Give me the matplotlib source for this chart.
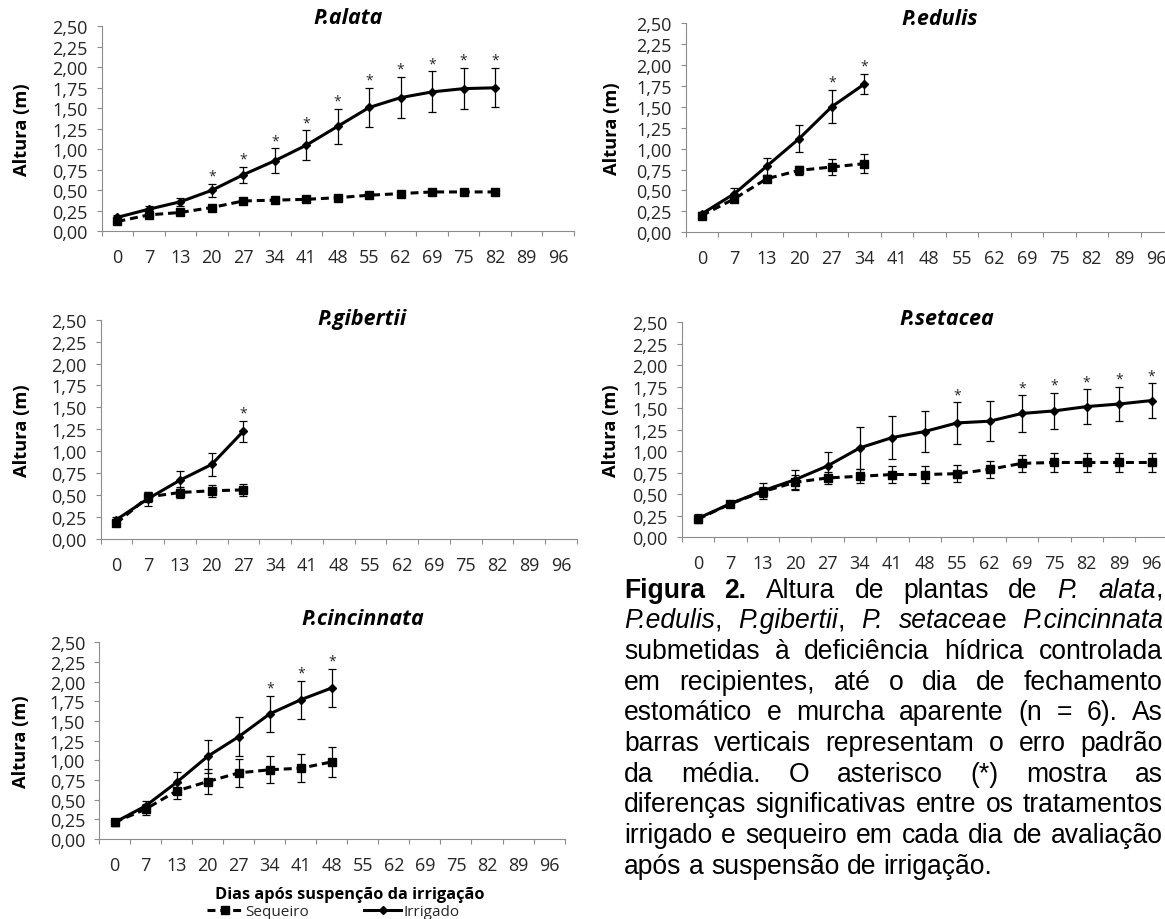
import re
import matplotlib
matplotlib.use("Agg")
import matplotlib.pyplot as plt
from matplotlib.lines import Line2D

plt.rcParams["font.family"] = "Open Sans"

# ---------------- data ----------------
days = ["0", "7", "13", "20", "27", "34", "41", "48", "55", "62", "69", "75", "82", "89", "96"]
ytick_vals = [0.0, 0.25, 0.5, 0.75, 1.0, 1.25, 1.5, 1.75, 2.0, 2.25, 2.5]
ytick_labels = ["0,00", "0,25", "0,50", "0,75", "1,00", "1,25", "1,50", "1,75", "2,00", "2,25", "2,50"]
series_names = ["Sequeiro", "Irrigado"]

alata_irr = [0.17, 0.27, 0.36, 0.50, 0.69, 0.86, 1.05, 1.28, 1.51, 1.63, 1.70, 1.74, 1.75]
alata_irr_err = [0.03, 0.04, 0.05, 0.08, 0.10, 0.15, 0.18, 0.21, 0.24, 0.25, 0.25, 0.25, 0.24]
alata_seq = [0.12, 0.20, 0.23, 0.29, 0.37, 0.38, 0.39, 0.41, 0.44, 0.46, 0.48, 0.48, 0.48]
alata_seq_err = [0.02, 0.02, 0.02, 0.02, 0.02, 0.02, 0.02, 0.02, 0.03, 0.03, 0.03, 0.03, 0.03]
alata_sig = ["20", "27", "34", "41", "48", "55", "62", "69", "75", "82"]

edulis_irr = [0.22, 0.46, 0.79, 1.12, 1.50, 1.77]
edulis_irr_err = [0.02, 0.07, 0.10, 0.16, 0.20, 0.12]
edulis_seq = [0.20, 0.40, 0.64, 0.74, 0.78, 0.82]
edulis_seq_err = [0.02, 0.03, 0.04, 0.05, 0.10, 0.11]
edulis_sig = ["27", "34"]

gibertii_irr = [0.22, 0.46, 0.67, 0.85, 1.23]
gibertii_irr_err = [0.03, 0.08, 0.10, 0.13, 0.12]
gibertii_seq = [0.18, 0.48, 0.53, 0.55, 0.56]
gibertii_seq_err = [0.02, 0.06, 0.06, 0.07, 0.07]
gibertii_sig = ["27"]

setacea_irr = [0.22, 0.39, 0.54, 0.67, 0.83, 1.04, 1.16, 1.23, 1.33, 1.35, 1.44, 1.47, 1.52, 1.55, 1.59]
setacea_irr_err = [0.05, 0.02, 0.09, 0.11, 0.16, 0.24, 0.25, 0.24, 0.24, 0.23, 0.21, 0.21, 0.20, 0.20, 0.20]
setacea_seq = [0.21, 0.39, 0.53, 0.64, 0.69, 0.71, 0.73, 0.73, 0.74, 0.79, 0.86, 0.87, 0.87, 0.87, 0.87]
setacea_seq_err = [0.03, 0.02, 0.06, 0.09, 0.07, 0.08, 0.10, 0.10, 0.10, 0.10, 0.10, 0.11, 0.11, 0.11, 0.11]
setacea_sig = ["55", "69", "75", "82", "89", "96"]

cincinnata_irr = [0.21, 0.42, 0.72, 1.05, 1.30, 1.59, 1.77, 1.92]
cincinnata_irr_err = [0.05, 0.06, 0.13, 0.21, 0.25, 0.23, 0.24, 0.24]
cincinnata_seq = [0.21, 0.38, 0.61, 0.73, 0.84, 0.88, 0.90, 0.98]
cincinnata_seq_err = [0.04, 0.07, 0.10, 0.16, 0.18, 0.17, 0.18, 0.19]
cincinnata_sig = ["34", "41", "48"]

titles = ["P.alata", "P.edulis", "P.gibertii", "P.setacea", "P.cincinnata"]
ylabel_text = "Altura (m)"
xlabel_text = "Dias após suspenção da irrigação"

caption_lines = [
    "^Figura^ ^2.^ Altura de plantas de _P._ _alata_,",
    "_P.edulis_, _P.gibertii_, _P._ _setacea_e _P.cincinnata_",
    "submetidas à deficiência hídrica controlada",
    "em recipientes, até o dia de fechamento",
    "estomático e murcha aparente (n = 6). As",
    "barras verticais representam o erro padrão",
    "da média. O asterisco (*) mostra as",
    "diferenças significativas entre os tratamentos",
    "irrigado e sequeiro em cada dia de avaliação",
    "após a suspensão de irrigação.",
]

# ---------------- layout (pixels) ----------------
W, H = 1165, 920
fig = plt.figure(figsize=(W / 100, H / 100), dpi=100)

# left, right, top, bottom, title cx, title cy, ylabel cx
layout = {
    "P.alata":      (101.7, 573.7, 27.3, 232.3, 348, 27, 22.5),
    "P.edulis":     (685.5, 1173.0, 24.0, 233.3, 940, 28, 612),
    "P.gibertii":   (100.5, 577.0, 320.7, 540.0, 362, 328, 22.5),
    "P.setacea":    (681.7, 1167.7, 323.3, 538.3, 947, 328, 611),
    "P.cincinnata": (99.0, 564.6, 643.3, 840.0, 363, 628, 21),
}

panel_data = {
    "P.alata": (alata_irr, alata_irr_err, alata_seq, alata_seq_err, alata_sig),
    "P.edulis": (edulis_irr, edulis_irr_err, edulis_seq, edulis_seq_err, edulis_sig),
    "P.gibertii": (gibertii_irr, gibertii_irr_err, gibertii_seq, gibertii_seq_err, gibertii_sig),
    "P.setacea": (setacea_irr, setacea_irr_err, setacea_seq, setacea_seq_err, setacea_sig),
    "P.cincinnata": (cincinnata_irr, cincinnata_irr_err, cincinnata_seq, cincinnata_seq_err, cincinnata_sig),
}

AX_GRAY = "#8c8c8c"
TXT = "#262626"
DASH = (0, (2.6, 1.6))
LW = 2.2

axes = {}
for name in titles:
    l, r, t, b, tcx, tcy, ylx = layout[name]
    ax = fig.add_axes([l / W, 1 - b / H, (r - l) / W, (b - t) / H])
    axes[name] = ax
    irr, irr_err, seq, seq_err, sig = panel_data[name]
    xi = list(range(len(irr)))
    xs = list(range(len(seq)))
    ax.errorbar(xi, irr, yerr=irr_err, color="k", lw=LW, marker="D", ms=4,
                ecolor="k", elinewidth=0.9, capsize=3, capthick=0.9, zorder=3,
                clip_on=False)
    ax.errorbar(xs, seq, yerr=seq_err, color="k", lw=LW, linestyle=DASH, marker="s", ms=6,
                ecolor="k", elinewidth=0.9, capsize=3, capthick=0.9, zorder=4,
                clip_on=False)
    for d in sig:
        i = days.index(d)
        ax.annotate("*", (i, irr[i] + irr_err[i]), xytext=(0, 3), textcoords="offset points",
                    ha="center", va="baseline", fontsize=10, color=TXT)

    ax.set_xlim(-0.5, len(days) - 0.5)
    ax.set_ylim(0, 2.5)
    ax.set_xticks(range(len(days)))
    ax.set_xticklabels(days)
    ax.set_xticks([i - 0.5 for i in range(len(days) + 1)], minor=True)
    ax.set_yticks(ytick_vals)
    ax.set_yticklabels(ytick_labels)
    ax.tick_params(axis="x", which="major", length=0, pad=12, labelsize=13, labelcolor=TXT)
    ax.tick_params(axis="x", which="minor", length=3.6, width=0.8, color=AX_GRAY, direction="out")
    ax.tick_params(axis="y", which="major", length=3.6, width=0.8, color=AX_GRAY, direction="out",
                   pad=6.3, labelsize=13, labelcolor=TXT)
    for s in ("top", "right"):
        ax.spines[s].set_visible(False)
    for s in ("left", "bottom"):
        ax.spines[s].set_color(AX_GRAY)
        ax.spines[s].set_linewidth(0.8)

    ax.set_title(name, x=(tcx - l) / (r - l), y=(b - tcy) / (b - t), va="center", ha="center",
                 fontsize=15.5, fontweight="bold", fontstyle="italic", color="k")
    ax.set_ylabel(ylabel_text, fontsize=13.2, fontweight="bold", va="center", color="k")
    ax.yaxis.set_label_coords(ylx / W, 1 - ((t + b) / 2) / H, transform=fig.transFigure)

axc = axes["P.cincinnata"]
axc.set_xlabel(xlabel_text, fontsize=11.8, fontweight="bold", va="center", color="k")
axc.xaxis.set_label_coords(350 / W, 1 - 895 / H, transform=fig.transFigure)

h_seq = Line2D([], [], color="k", lw=LW, linestyle=DASH, marker="s", ms=6)
h_irr = Line2D([], [], color="k", lw=LW, marker="D", ms=4)
fig.legend([h_seq, h_irr], series_names, loc="center", bbox_to_anchor=(333 / W, 1 - 913 / H),
           ncol=2, frameon=False, fontsize=11, handlelength=2.4, handletextpad=0.15,
           columnspacing=3.6, borderpad=0, numpoints=1, labelcolor=TXT)

# ---------------- justified caption ----------------
CAP_FONT = "Liberation Sans"
CAP_FS = 19.1
CAP_L, CAP_R = 624, 1163
CAP_BASE0, CAP_STEP = 597.5, 30.7
renderer = fig.canvas.get_renderer()
style_kw = {"n": {}, "b": {"fontweight": "bold"}, "i": {"fontstyle": "italic"}}


def parse_word(word):
    runs = []
    for bold, ital, plain in re.findall(r"\^([^^]+)\^|_([^_]+)_|([^^_]+)", word):
        if bold:
            runs.append((bold, "b"))
        elif ital:
            runs.append((ital, "i"))
        else:
            runs.append((plain, "n"))
    return runs


def text_w(txt, style):
    tt = fig.text(0, 0, txt, fontsize=CAP_FS, family=CAP_FONT, **style_kw[style])
    w = tt.get_window_extent(renderer).width
    tt.remove()
    return w


space_w = text_w("a a", "n") - text_w("aa", "n")
avail = CAP_R - CAP_L
for li, line in enumerate(caption_lines):
    words = [parse_word(wd) for wd in line.split(" ")]
    widths = [[text_w(tx, st) for tx, st in wd] for wd in words]
    totals = [sum(ws) for ws in widths]
    if li < len(caption_lines) - 1 and len(words) > 1:
        gap = (avail - sum(totals)) / (len(words) - 1)
    else:
        gap = space_w
    x = CAP_L
    yb = 1 - (CAP_BASE0 + li * CAP_STEP) / H
    for wd, ws in zip(words, widths):
        for (tx, st), w in zip(wd, ws):
            fig.text(x / W, yb, tx, fontsize=CAP_FS, family=CAP_FONT, ha="left", va="baseline",
                     color="k", **style_kw[st])
            x += w
        x += gap

fig.savefig("out.png", dpi=100)
